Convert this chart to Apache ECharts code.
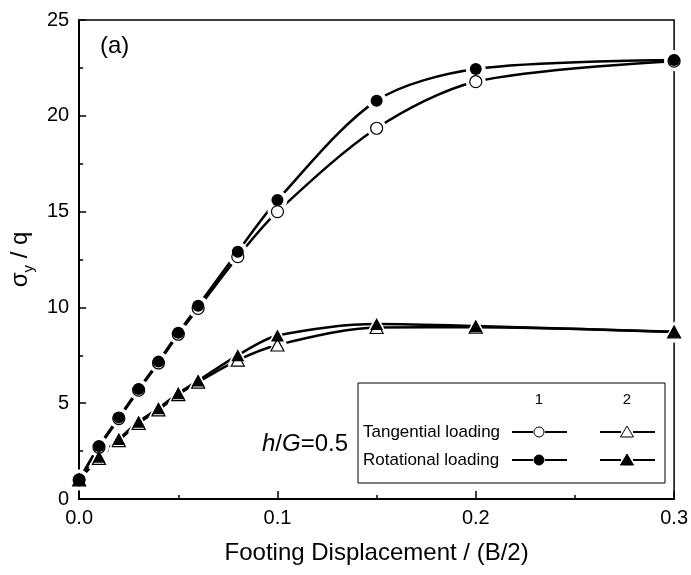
<!DOCTYPE html>
<html>
<head>
<meta charset="utf-8">
<script src="https://cdn.jsdelivr.net/npm/echarts@6/dist/echarts.min.js"></script>
<style>
  html, body { margin: 0; padding: 0; background: #fff; }
  #chart { width: 691px; height: 575px; }
</style>
</head>
<body>
<div id="chart"></div>
<script>
// footing displacement / (B/2)
var xs = [0, 0.01, 0.02, 0.03, 0.04, 0.05, 0.06, 0.08, 0.1, 0.15, 0.2, 0.3];
// sigma_y / q, curve 1
var tangential1 = [1.0, 2.70, 4.20, 5.68, 7.10, 8.60, 9.95, 12.65, 15.0, 19.35, 21.78, 22.85];
var rotational1 = [1.0, 2.77, 4.26, 5.74, 7.17, 8.68, 10.09, 12.91, 15.6, 20.79, 22.44, 22.91];
// sigma_y / q, curve 2
var tangential2 = [1.0, 2.12, 3.05, 3.95, 4.65, 5.45, 6.10, 7.25, 8.04, 8.95, 8.97, 8.72];
var rotational2 = [1.0, 2.20, 3.13, 4.03, 4.73, 5.52, 6.18, 7.50, 8.53, 9.13, 9.03, 8.73];
var xTicks = [0, 0.1, 0.2, 0.3];
var yTicks = [0, 5, 10, 15, 20, 25];

var FONT = '"Liberation Sans", Arial, sans-serif';

function pairs(ys) {
  return xs.map(function (x, i) { return [x, ys[i]]; });
}

var curves = [
  { name: 'Tangential 1', ys: tangential1, symbol: 'circle', filled: false },
  { name: 'Rotational 1', ys: rotational1, symbol: 'circle', filled: true },
  { name: 'Tangential 2', ys: tangential2, symbol: 'triangle', filled: false },
  { name: 'Rotational 2', ys: rotational2, symbol: 'triangle', filled: true }
];

var series = [];
curves.forEach(function (c) {
  series.push({
    name: c.name,
    type: 'line',
    data: pairs(c.ys),
    smooth: 0.3,
    symbol: 'none',
    lineStyle: { color: '#000', width: 2.5 },
    z: 2,
    silent: true
  });
});
// white halos give the little gap between line and symbol
curves.forEach(function (c) {
  series.push({
    type: 'scatter',
    data: pairs(c.ys),
    symbol: c.symbol,
    symbolSize: c.symbol == 'circle' ? 20 : 21,
    itemStyle: { color: '#fff', opacity: 1 },
    z: 3,
    silent: true
  });
});
curves.forEach(function (c) {
  series.push({
    type: 'scatter',
    data: pairs(c.ys),
    symbol: c.symbol,
    symbolSize: c.symbol == 'circle' ? 12 : [13, 12],
    itemStyle: {
      color: c.filled ? '#000' : '#fff',
      borderColor: '#000',
      borderWidth: c.filled ? 0 : 1.2,
      opacity: 1
    },
    z: c.filled ? 5 : 4,
    silent: true
  });
});

var chart = echarts.init(document.getElementById('chart'));

// legend box drawn by hand (2x2 layout with column headers)
var lg = { x: 358, y: 383, w: 307, h: 100 };
var rowY = [432, 460];
var colX = [539, 627];
var graphics = [
  { type: 'rect', shape: { x: lg.x, y: lg.y, width: lg.w, height: lg.h },
    style: { fill: '#fff', stroke: '#000', lineWidth: 1 }, z: 10 },
  { type: 'text', x: colX[0], y: 400, style: { text: '1', font: '15px ' + FONT, fill: '#000', align: 'center', verticalAlign: 'middle' }, z: 11 },
  { type: 'text', x: colX[1], y: 400, style: { text: '2', font: '15px ' + FONT, fill: '#000', align: 'center', verticalAlign: 'middle' }, z: 11 },
  { type: 'text', x: 363, y: rowY[0], style: { text: 'Tangential loading', font: '17px ' + FONT, fill: '#000', verticalAlign: 'middle' }, z: 11 },
  { type: 'text', x: 363, y: rowY[1], style: { text: 'Rotational loading', font: '17px ' + FONT, fill: '#000', verticalAlign: 'middle' }, z: 11 },
  { type: 'text', x: 100, y: 46, style: { text: '(a)', font: '24px ' + FONT, fill: '#000', verticalAlign: 'middle' }, z: 11 },
  { type: 'text', x: 262, y: 444, style: {
      text: '{i|h}/{i|G}=0.5', fill: '#000', verticalAlign: 'middle',
      rich: { i: { fontFamily: FONT, fontSize: 24, fontStyle: 'italic' } },
      font: '24px ' + FONT }, z: 11 }
];
[0, 1].forEach(function (r) {
  [0, 1].forEach(function (col) {
    var cx = colX[col], cy = rowY[r];
    var filled = r == 1;
    graphics.push({ type: 'line', shape: { x1: cx - 27, y1: cy, x2: cx - 6, y2: cy }, style: { stroke: '#000', lineWidth: 2 }, z: 11 });
    graphics.push({ type: 'line', shape: { x1: cx + 6, y1: cy, x2: cx + 28, y2: cy }, style: { stroke: '#000', lineWidth: 2 }, z: 11 });
    if (col == 0) {
      graphics.push({ type: 'circle', shape: { cx: cx, cy: cy, r: 5 },
        style: { fill: filled ? '#000' : '#fff', stroke: '#000', lineWidth: 1 }, z: 11 });
    } else {
      graphics.push({ type: 'polygon', shape: { points: [[cx, cy - 6], [cx + 6.5, cy + 5], [cx - 6.5, cy + 5]] },
        style: { fill: filled ? '#000' : '#fff', stroke: '#000', lineWidth: 1 }, z: 11 });
    }
  });
});

chart.setOption({
  animation: false,
  backgroundColor: '#fff',
  grid: {
    left: 79, right: 16, top: 20, bottom: 76,
    show: true, borderColor: '#000', borderWidth: 1.5, backgroundColor: 'transparent'
  },
  xAxis: {
    type: 'value',
    min: xTicks[0], max: xTicks[xTicks.length - 1], interval: 0.1,
    name: 'Footing Displacement / (B/2)',
    nameLocation: 'middle',
    nameGap: 42,
    nameTextStyle: { fontFamily: FONT, fontSize: 24, color: '#000' },
    axisLine: { show: true, lineStyle: { color: '#000', width: 2 } },
    axisTick: { show: true, inside: true, length: 8, lineStyle: { color: '#000', width: 1.5 } },
    minorTick: { show: true, splitNumber: 2, length: 4, lineStyle: { color: '#000', width: 1.5 } },
    splitLine: { show: false },
    axisLabel: {
      margin: 9, fontFamily: FONT, fontSize: 20, color: '#000',
      formatter: function (v) { return v.toFixed(1); }
    }
  },
  yAxis: {
    type: 'value',
    min: yTicks[0], max: yTicks[yTicks.length - 1], interval: 5,
    name: '{a|σ}{b|y}{a| / q}',
    nameLocation: 'middle',
    nameGap: 30,
    nameRotate: 90,
    nameTextStyle: {
      color: '#000',
      rich: {
        a: { fontFamily: FONT, fontSize: 24, lineHeight: 32, color: '#000' },
        b: { fontFamily: FONT, fontSize: 15, lineHeight: 15, verticalAlign: 'bottom', color: '#000' }
      }
    },
    axisLine: { show: true, lineStyle: { color: '#000', width: 2 } },
    axisTick: { show: true, inside: true, length: 7, lineStyle: { color: '#000', width: 1.5 } },
    minorTick: { show: true, splitNumber: 2, length: 4, lineStyle: { color: '#000', width: 1.5 } },
    splitLine: { show: false },
    axisLabel: { margin: 10, fontFamily: FONT, fontSize: 20, color: '#000' }
  },
  graphic: graphics,
  series: series
});
</script>
</body>
</html>
